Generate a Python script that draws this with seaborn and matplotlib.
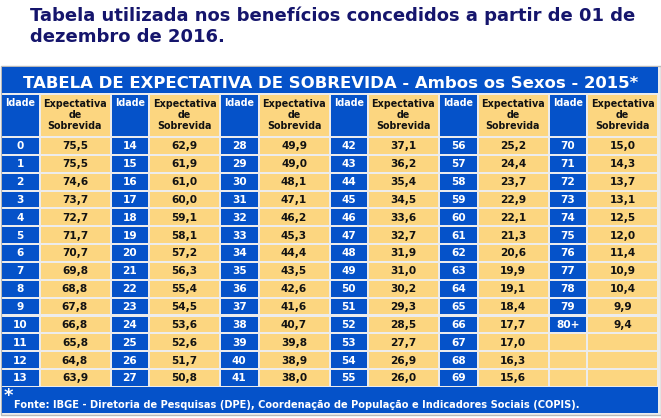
import matplotlib
matplotlib.use("Agg")
import matplotlib.pyplot as plt
import seaborn as sns
import pandas as pd

# data (age, survival expectancy in years)
idades = [str(i) for i in range(80)] + ["80+"]
expectativa = [
    75.5, 75.5, 74.6, 73.7, 72.7, 71.7, 70.7, 69.8, 68.8, 67.8, 66.8, 65.8, 64.8, 63.9,
    62.9, 61.9, 61.0, 60.0, 59.1, 58.1, 57.2, 56.3, 55.4, 54.5, 53.6, 52.6, 51.7, 50.8,
    49.9, 49.0, 48.1, 47.1, 46.2, 45.3, 44.4, 43.5, 42.6, 41.6, 40.7, 39.8, 38.9, 38.0,
    37.1, 36.2, 35.4, 34.5, 33.6, 32.7, 31.9, 31.0, 30.2, 29.3, 28.5, 27.7, 26.9, 26.0,
    25.2, 24.4, 23.7, 22.9, 22.1, 21.3, 20.6, 19.9, 19.1, 18.4, 17.7, 17.0, 16.3, 15.6,
    15.0, 14.3, 13.7, 13.1, 12.5, 12.0, 11.4, 10.9, 10.4, 9.9, 9.4,
]
titulo = ["Tabela utilizada nos benefícios concedidos a partir de 01 de",
          "dezembro de 2016."]
cabecalho = "TABELA DE EXPECTATIVA DE SOBREVIDA - Ambos os Sexos - 2015*"
col_idade = "Idade"
col_exp = "Expectativa\nde\nSobrevida"
fonte = "Fonte: IBGE - Diretoria de Pesquisas (DPE), Coordenação de População e Indicadores Sociais (COPIS)."

n_rows = 14
n_blocks = 6

df = pd.DataFrame({"idade": idades, "exp": expectativa})
df["bloco"] = df.index // n_rows
df["linha"] = df.index % n_rows

sns.set_theme(style="white")
plt.rcParams["font.family"] = ["DejaVu Sans"]

blue = "#0552c9"
yellow = "#fcd680"
sep = "#ececec"
navy = "#15156c"
ink = "#121212"

fig = plt.figure(figsize=(6.61, 4.18), dpi=100)
ax = fig.add_axes([0, 0, 1, 1])
ax.set_xlim(0, 661)
ax.set_ylim(418, 0)
ax.axis("off")
renderer = fig.canvas.get_renderer()


def fit(t, width):
    bb = t.get_window_extent(renderer)
    t.set_fontsize(t.get_fontsize() * width / bb.width)


# layout (pixels)
x0, w_id, w_ex, gap = 2, 36.5, 69, 2
pitch = w_id + w_ex + 2 * gap
head_top, head_h = 95, 41
row_top, row_pitch, row_h = 138, 17.85, 15.8
cell = dict(align="edge", linewidth=0)

# frame + separators background
ax.bar(1, 349, width=659.5, bottom=65.5, align="edge", color=sep,
       edgecolor="#b9b9b9", linewidth=1)
# title band and footer band
ax.bar(x0, 26, width=656, bottom=67, color=blue, **cell)
ax.bar(x0, 26, width=656, bottom=387, color=blue, **cell)

# title text
t1 = ax.text(30, 21, titulo[0], color=navy, fontsize=13, fontweight="bold", va="baseline")
fit(t1, 602)
ax.text(30, 42.5, titulo[1], color=navy, fontsize=t1.get_fontsize(),
        fontweight="bold", va="baseline")

tb = ax.text(331, 87.5, cabecalho, color="white", fontsize=13, fontweight="bold",
             ha="center", va="baseline")
fit(tb, 611)

for b in range(n_blocks):
    xi = x0 + b * pitch
    xe = xi + w_id + gap
    ax.bar(xi, head_h, width=w_id, bottom=head_top, color=blue, **cell)
    ax.bar(xe, head_h, width=w_ex, bottom=head_top, color=yellow, **cell)
    ax.text(xi + w_id / 2, head_top + 8, col_idade, color="white", fontsize=6.9,
            fontweight="bold", ha="center", va="center")
    ax.text(xe + w_ex / 2, head_top + 20, col_exp, color=ink, fontsize=6.9,
            fontweight="bold", ha="center", va="center", linespacing=1.15)

    sub = df[df["bloco"] == b]
    tops = [row_top + r * row_pitch for r in range(n_rows)]
    filled = set(sub["linha"])
    id_colors = [blue if r in filled else yellow for r in range(n_rows)]
    ax.bar([xi] * n_rows, row_h, width=w_id, bottom=tops, color=id_colors, **cell)
    ax.bar([xe] * n_rows, row_h, width=w_ex, bottom=tops, color=yellow, **cell)
    for _, row in sub.iterrows():
        yc = row_top + row["linha"] * row_pitch + row_h / 2 + 0.5
        ax.text(xi + w_id / 2, yc, row["idade"], color="white", fontsize=7.6,
                fontweight="bold", ha="center", va="center")
        ax.text(xe + w_ex / 2, yc, f"{row['exp']:.1f}".replace(".", ","), color=ink,
                fontsize=7.6, fontweight="bold", ha="center", va="center")

# footer
ax.text(8, 401, "*", color="white", fontsize=13, fontweight="bold", ha="center",
        va="baseline")
tf = ax.text(14, 408, fonte, color="white", fontsize=7, fontweight="bold",
             va="baseline")
fit(tf, 570)

fig.savefig("out.png", dpi=100, facecolor="white")
